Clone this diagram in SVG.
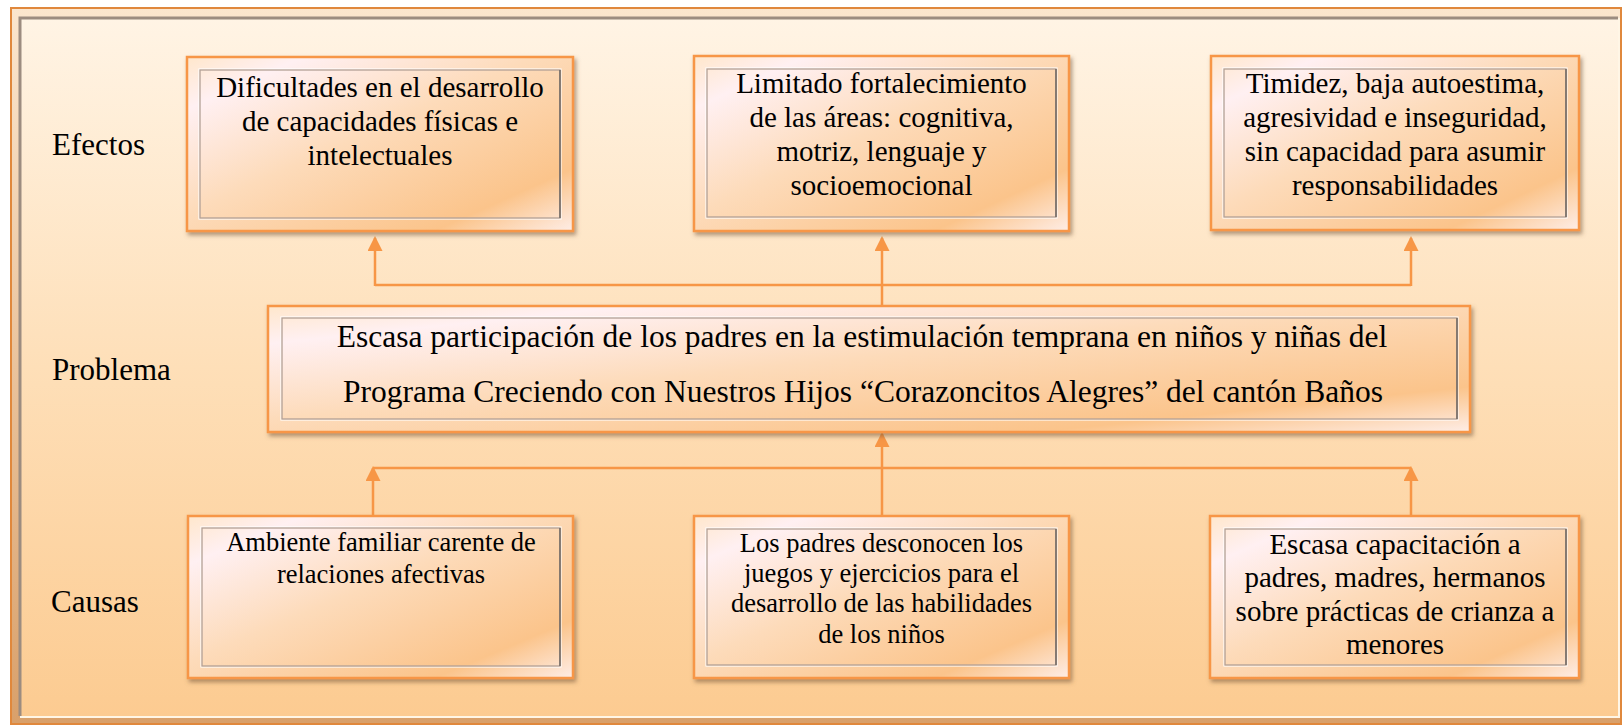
<svg xmlns="http://www.w3.org/2000/svg" width="1624" height="728" viewBox="0 0 1624 728">
<defs>
<linearGradient id="bg" x1="0" y1="0" x2="0" y2="1">
<stop offset="0" stop-color="#FFF4E5"/>
<stop offset="0.5" stop-color="#FEDFB8"/>
<stop offset="1" stop-color="#FCCB91"/>
</linearGradient>
<linearGradient id="band" x1="0" y1="0" x2="0" y2="1">
<stop offset="0" stop-color="#FBE6CE"/>
<stop offset="1" stop-color="#D9A06A"/>
</linearGradient>
<linearGradient id="boxfill" x1="0" y1="0" x2="1" y2="1">
<stop offset="0" stop-color="#FFE7CC"/>
<stop offset="0.15" stop-color="#FFF0F2"/>
<stop offset="0.45" stop-color="#FDDBBA"/>
<stop offset="0.82" stop-color="#FBC48B"/>
<stop offset="1" stop-color="#FEEDE6"/>
</linearGradient>
<filter id="shadow" x="-5%" y="-5%" width="115%" height="125%">
<feDropShadow dx="2" dy="3" stdDeviation="2" flood-color="#6e5038" flood-opacity="0.55"/>
</filter>
<marker id="arrow" viewBox="0 0 15 15" markerWidth="15" markerHeight="15" refX="13" refY="7.5" orient="auto" markerUnits="userSpaceOnUse">
<path d="M0,0 L15,7.5 L0,15 z" fill="#F79646"/>
</marker>
</defs>
<style>
.outer{fill:url(#boxfill);stroke:#F79646;stroke-width:2.5;filter:url(#shadow);}
.inner{fill:none;stroke:#B3A096;stroke-width:1.3;}
.hl{fill:none;stroke:#FFFFFF;stroke-width:1.2;opacity:0.9;}
.dk{stroke:#6E6660;stroke-width:1.5;}
.t{fill:#000;text-anchor:middle;}
.e{font-size:29px;}
.c{font-size:26.5px;}
.p{font-size:31.5px;}
.lbl{font-size:31px;fill:#000;}
.conn{stroke:#F79646;stroke-width:2.5;fill:none;}
</style>
<rect x="0" y="0" width="1624" height="728" fill="#FFFFFF"/>
<g id="frame">
<rect x="11" y="8" width="1610" height="716" fill="url(#band)" stroke="#E0883C" stroke-width="2"/>
<rect x="20" y="18" width="1598" height="698" fill="url(#bg)"/>
<polyline points="20,716 20,18 1618,18" fill="none" stroke="#9C8C80" stroke-width="3"/>
<polyline points="20,717 1619,717 1619,18" fill="none" stroke="#FFF6E6" stroke-width="2"/>
</g>
<g font-family="'Liberation Serif', 'Times New Roman', serif">
<g id="labels">
<text class="lbl" x="52" y="155">Efectos</text>
<text class="lbl" x="52" y="380">Problema</text>
<text class="lbl" x="51" y="612">Causas</text>
</g>
<g id="connectors" class="conn">
<line x1="882" y1="306" x2="882" y2="238" marker-end="url(#arrow)"/>
<line x1="375" y1="285" x2="1411" y2="285"/>
<line x1="375" y1="286" x2="375" y2="238" marker-end="url(#arrow)"/>
<line x1="1411" y1="286" x2="1411" y2="238" marker-end="url(#arrow)"/>
<line x1="882" y1="516" x2="882" y2="434" marker-end="url(#arrow)"/>
<line x1="373" y1="468" x2="1411" y2="468"/>
<line x1="373" y1="516" x2="373" y2="468" marker-end="url(#arrow)"/>
<line x1="1411" y1="516" x2="1411" y2="468" marker-end="url(#arrow)"/>
</g>
<g id="efecto1">
<rect class="outer" x="187" y="57" width="386" height="174"/>
<rect class="hl" x="199" y="69" width="362" height="150"/>
<rect class="inner" x="200" y="70" width="360" height="148"/>
<line class="dk" x1="560" y1="70" x2="560" y2="218"/>
<text class="t e" x="380" y="97">Dificultades en el desarrollo</text>
<text class="t e" x="380" y="131">de capacidades físicas e</text>
<text class="t e" x="380" y="165">intelectuales</text>
</g>
<g id="efecto2">
<rect class="outer" x="694" y="56" width="375" height="175"/>
<rect class="hl" x="706" y="68" width="351" height="150"/>
<rect class="inner" x="707" y="69" width="349" height="148"/>
<line class="dk" x1="1056" y1="69" x2="1056" y2="217"/>
<text class="t e" x="881.5" y="93">Limitado fortalecimiento</text>
<text class="t e" x="881.5" y="127">de las áreas: cognitiva,</text>
<text class="t e" x="881.5" y="161">motriz, lenguaje y</text>
<text class="t e" x="881.5" y="195">socioemocional</text>
</g>
<g id="efecto3">
<rect class="outer" x="1211" y="56" width="368" height="174"/>
<rect class="hl" x="1223" y="68" width="344" height="150"/>
<rect class="inner" x="1224" y="69" width="342" height="148"/>
<line class="dk" x1="1566" y1="69" x2="1566" y2="217"/>
<text class="t e" x="1395" y="93">Timidez, baja autoestima,</text>
<text class="t e" x="1395" y="127">agresividad e inseguridad,</text>
<text class="t e" x="1395" y="161">sin capacidad para asumir</text>
<text class="t e" x="1395" y="195">responsabilidades</text>
</g>
<g id="problema">
<rect class="outer" x="268" y="306" width="1202" height="126"/>
<rect class="hl" x="281" y="317" width="1177" height="103"/>
<rect class="inner" x="282" y="318" width="1175" height="101"/>
<line class="dk" x1="1457" y1="318" x2="1457" y2="419"/>
<text class="t p" x="862" y="347">Escasa participación de los padres en la estimulación temprana en niños y niñas del</text>
<text class="t p" x="863" y="402">Programa Creciendo con Nuestros Hijos “Corazoncitos Alegres” del cantón Baños</text>
</g>
<g id="causa1">
<rect class="outer" x="188" y="516" width="385" height="162"/>
<rect class="hl" x="201" y="527" width="360" height="140"/>
<rect class="inner" x="202" y="528" width="358" height="138"/>
<line class="dk" x1="560" y1="528" x2="560" y2="666"/>
<text class="t c" x="381" y="551">Ambiente familiar carente de</text>
<text class="t c" x="381" y="583">relaciones afectivas</text>
</g>
<g id="causa2">
<rect class="outer" x="694" y="516" width="375" height="162"/>
<rect class="hl" x="706" y="528" width="351" height="138"/>
<rect class="inner" x="707" y="529" width="349" height="136"/>
<line class="dk" x1="1056" y1="529" x2="1056" y2="665"/>
<text class="t c" x="881.5" y="552">Los padres desconocen los</text>
<text class="t c" x="881.5" y="582">juegos y ejercicios para el</text>
<text class="t c" x="881.5" y="612">desarrollo de las habilidades</text>
<text class="t c" x="881.5" y="643">de los niños</text>
</g>
<g id="causa3">
<rect class="outer" x="1210" y="516" width="369" height="162"/>
<rect class="hl" x="1224" y="528" width="343" height="138"/>
<rect class="inner" x="1225" y="529" width="341" height="136"/>
<line class="dk" x1="1566" y1="529" x2="1566" y2="665"/>
<text class="t e" x="1395" y="554">Escasa capacitación a</text>
<text class="t e" x="1395" y="587">padres, madres, hermanos</text>
<text class="t e" x="1395" y="621">sobre prácticas de crianza a</text>
<text class="t e" x="1395" y="654">menores</text>
</g>
</g>
</svg>
